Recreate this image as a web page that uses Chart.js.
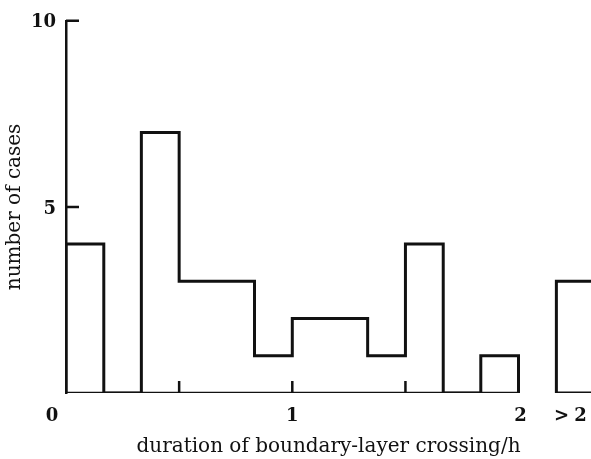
<!DOCTYPE html>
<html>
<head>
<meta charset="utf-8">
<script src="https://cdn.jsdelivr.net/npm/chart.js@4"></script>
<style>
  html, body { margin: 0; padding: 0; background: #fff; }
  #wrap { width: 591px; height: 459px; position: relative; }
</style>
</head>
<body>
<div id="wrap"><canvas id="hist"></canvas></div>
<script>
// histogram bins, width 1/6 h, from 0 to 2 h
const binStart  = [0, 0.167, 0.333, 0.5, 0.667, 0.833, 1.0, 1.167, 1.333, 1.5, 1.667, 1.833];
const binCounts = [4, 0, 7, 3, 3, 1, 2, 2, 1, 4, 0, 1];
const binWidth  = 1 / 6;

// everything longer than 2 h, drawn as a detached bar
const overLabel = '>2';
const overStart = 2.167;
const overCount = 3;

const xTickLabels = [
  { value: 0, text: '0', shift: -14 },
  { value: 1, text: '1', shift: 0 },
  { value: 2, text: '2', shift: 2 },
  { value: 2.24, text: overLabel, shift: 0 }
];
const xMinorTicks = [0.5, 1, 1.5];
const yStubs      = [5, 10];

const ink = '#111';
const numFont = 'bold 18px "DejaVu Serif"';

// outline of the joined bars as one stepped path
const outline = [{ x: binStart[0], y: 0 }];
binStart.forEach((s, i) => outline.push({ x: s, y: binCounts[i] }));
outline.push({ x: binStart[binStart.length - 1] + binWidth, y: 0 });

const baseline = [
  { x: binStart[0], y: 0 },
  { x: binStart[binStart.length - 1] + binWidth, y: 0 }
];

const overBar = [
  { x: overStart + binWidth, y: 0 },
  { x: overStart, y: 0 },
  { x: overStart, y: overCount },
  { x: overStart + binWidth, y: overCount }
];

const lineStyle = {
  borderColor: ink,
  borderWidth: 3,
  pointRadius: 0,
  fill: false,
  stepped: 'before',
  borderJoinStyle: 'miter',
  borderCapStyle: 'square'
};

// short inward ticks and the numbers along the bottom
const axisMarks = {
  id: 'axisMarks',
  afterDraw(chart) {
    const { ctx, scales: { x, y } } = chart;
    const base = y.getPixelForValue(0);
    ctx.save();
    ctx.strokeStyle = ink;
    ctx.lineWidth = 2.5;
    ctx.beginPath();
    yStubs.forEach(v => {
      const py = y.getPixelForValue(v);
      ctx.moveTo(x.left, py);
      ctx.lineTo(x.left + 13, py);
    });
    xMinorTicks.forEach(v => {
      const px = x.getPixelForValue(v);
      ctx.moveTo(px, base);
      ctx.lineTo(px, base - 12);
    });
    ctx.stroke();

    ctx.fillStyle = ink;
    ctx.font = numFont;
    ctx.textAlign = 'center';
    ctx.textBaseline = 'middle';
    xTickLabels.forEach(t => {
      ctx.letterSpacing = t.text.length > 1 ? '5px' : '0px';
      ctx.fillText(t.text, x.getPixelForValue(t.value) + t.shift, 416);
    });
    ctx.restore();
  }
};

new Chart(document.getElementById('hist'), {
  type: 'line',
  data: {
    datasets: [
      { ...lineStyle, data: outline },
      { ...lineStyle, data: baseline, borderWidth: 2.5 },
      { ...lineStyle, data: overBar }
    ]
  },
  options: {
    responsive: true,
    maintainAspectRatio: false,
    animation: false,
    layout: { padding: { top: 17, right: 0, bottom: 0, left: 0 } },
    plugins: {
      legend: { display: false },
      tooltip: { enabled: false }
    },
    scales: {
      x: {
        type: 'linear',
        min: 0,
        max: 2.32,
        grid: { display: false },
        border: { display: false },
        ticks: { display: false },
        title: {
          display: true,
          text: 'duration of boundary-layer crossing/h',
          color: ink,
          font: { family: '"DejaVu Serif"', size: 20 },
          padding: { top: 0, bottom: 0 }
        },
        afterFit(scale) { scale.height = 66; }
      },
      y: {
        min: 0,
        max: 10,
        grid: { display: false, drawTicks: false },
        border: { display: true, color: ink, width: 2.5 },
        ticks: {
          stepSize: 5,
          padding: 10,
          labelOffset: 2,
          color: ink,
          font: { family: '"DejaVu Serif"', size: 18, weight: 'bold' },
          callback: v => (v === 0 ? '' : v)
        },
        title: {
          display: true,
          text: 'number of cases',
          color: ink,
          font: { family: '"DejaVu Serif"', size: 20 },
          padding: { top: 3, bottom: 0 }
        },
        afterFit(scale) { scale.width = 66; }
      }
    }
  },
  plugins: [axisMarks]
});
</script>
</body>
</html>
